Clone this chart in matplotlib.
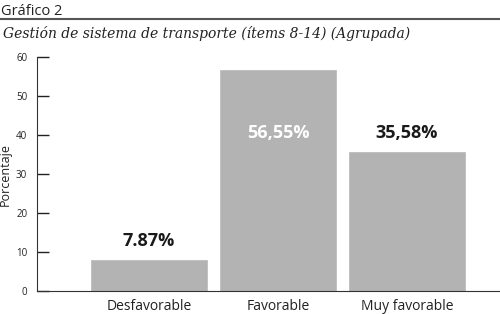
import matplotlib
matplotlib.use("Agg")
import matplotlib.pyplot as plt
from matplotlib.lines import Line2D

categories = ["Desfavorable", "Favorable", "Muy favorable"]
values = [7.87, 56.55, 35.58]
value_labels = ["7.87%", "56,55%", "35,58%"]
yticks = [0, 10, 20, 30, 40, 50, 60]

plt.rcParams['font.family'] = ['Open Sans', 'DejaVu Sans']

fig = plt.figure(figsize=(5, 3.14), dpi=100)
ax = fig.add_axes([0.074, 0.0732, 0.924, 0.7453])

x = range(len(categories))
bars = ax.bar(x, values, width=0.9, color="#b3b3b3", edgecolor="#bdbdbd", linewidth=0.6)

ax.set_xlim(-0.868, 2.713)
ax.set_ylim(0, 60)
ax.set_yticks(yticks)
ax.set_xticks(list(x))
ax.set_xticklabels(categories, fontsize=10, color="#222222")
ax.tick_params(axis="x", length=0, pad=5.5)
ax.tick_params(axis="y", direction="in", length=8.6, width=1, labelsize=7, pad=7, colors="#222222")
ax.set_ylabel("Porcentaje", fontsize=9, labelpad=3, color="#222222")

for s in ["top", "right"]:
    ax.spines[s].set_visible(False)
ax.spines["left"].set_color("#333333")
ax.spines["bottom"].set_color("#333333")

# value labels
for i, (v, lab) in enumerate(zip(values, value_labels)):
    if v > 50:
        ax.text(i, v - 16, lab, ha="center", va="center", fontsize=13,
                fontweight="bold", color="white")
    else:
        ax.text(i, v + 5.0, lab, ha="center", va="center", fontsize=13,
                fontweight="bold", color="#1a1a1a")

# header
fig.text(0.002, 0.962, "Gráfico 2", ha="left", va="center", fontsize=10.5, color="#222222")
fig.add_artist(Line2D([0, 1], [0.939, 0.939], color="#555555", linewidth=1.5,
                      transform=fig.transFigure))
fig.text(0.006, 0.893, "Gestión de sistema de transporte (ítems 8-14) (Agrupada)",
         ha="left", va="center", fontsize=10, style="italic",
         family=["DejaVu Serif"], color="#222222")

fig.savefig("out.png", dpi=100)
